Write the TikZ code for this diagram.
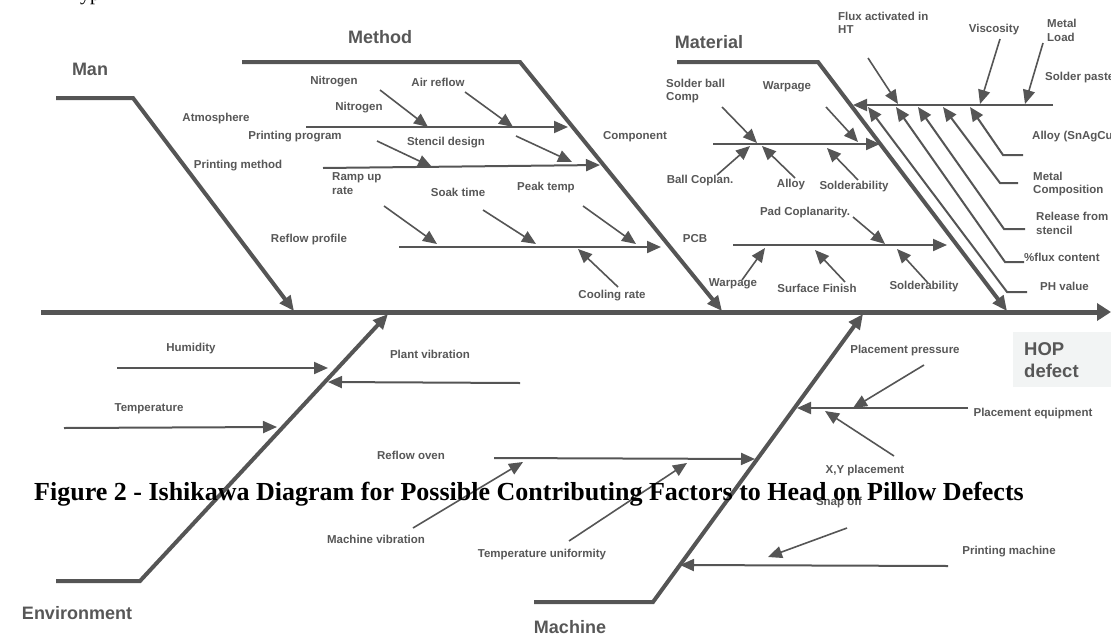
\documentclass[tikz,border=0pt]{standalone}
\usepackage{fontspec}
\setmainfont{Liberation Serif}
\setsansfont{Liberation Sans}
\usetikzlibrary{arrows.meta}
\definecolor{lc}{HTML}{555555}
\definecolor{tc}{HTML}{575757}
\definecolor{hopbg}{HTML}{F2F4F4}
\begin{document}
\begin{tikzpicture}[x=1pt,y=-1pt,
  spine/.style={draw=lc, line width=5pt, -{Triangle[length=14pt,width=17pt]}},
  bone/.style={draw=lc, line width=4pt, line join=miter, -{Triangle[length=15pt,width=13pt]}},
  sub/.style={draw=lc, line width=2pt, -{Triangle[length=14pt,width=12pt]}},
  twig/.style={draw=lc, line width=1.6pt, -{Triangle[length=14pt,width=12pt]}},
  lbl/.style={font=\sffamily\bfseries\fontsize{11.5}{13.5}\selectfont, text=tc, inner sep=0pt, align=center},
  lbll/.style={lbl, align=left, anchor=west},
  head/.style={font=\sffamily\bfseries\fontsize{18}{21}\selectfont, text=tc, inner sep=0pt}]
\useasboundingbox (0,0) rectangle (1111,635);
\node[font=\fontsize{20}{24}\selectfont, anchor=base west, inner sep=0pt] (frag) at (80,0) {yp};
% spine
\coordinate (s0) at (41,312); \coordinate (s1) at (1111,312);
\draw[spine] (s0) -- (s1);
% main bones
\coordinate (man0) at (56,98); \coordinate (man1) at (133,98); \coordinate (man2) at (294,311);
\coordinate (met0) at (242,62); \coordinate (met1) at (520,62); \coordinate (met2) at (722,311);
\coordinate (mat0) at (677,62); \coordinate (mat1) at (818,62); \coordinate (mat2) at (1007,311);
\coordinate (env0) at (56,581); \coordinate (env1) at (140,581); \coordinate (env2) at (388,314);
\coordinate (mac0) at (534,602); \coordinate (mac1) at (653,602); \coordinate (mac2) at (863,314);
\draw[bone] (man0) -- (man1) -- (man2);
\draw[bone] (met0) -- (met1) -- (met2);
\draw[bone] (mat0) -- (mat1) -- (mat2);
\draw[bone] (env0) -- (env1) -- (env2);
\draw[bone] (mac0) -- (mac1) -- (mac2);
\node[head] (lman) at (90,69) {Man};
\node[head] (lmet) at (380,37) {Method};
\node[head] (lmat) at (709,42) {Material};
\node[head] (lenv) at (77,613) {Environment};
\node[head] (lmac) at (570,627) {Machine};
% HOP box
\fill[hopbg] (1013,332) rectangle (1111,387);
\node[head, font=\sffamily\bfseries\fontsize{18.5}{22}\selectfont, align=left, anchor=west] (hop) at (1024,360) {HOP\\defect};
% Man labels
\node[lbl] (atm) at (216,119) {Atmosphere};
\node[lbl] (pmeth) at (238,166) {Printing method};
% Method
\node[lbl] (nit1) at (334,82) {Nitrogen};
\node[lbl] (nit2) at (359,108) {Nitrogen};
\node[lbl] (pprog) at (295,137) {Printing program};
\node[lbl] (air) at (438,82) {Air reflow};
\node[lbl] (sten) at (446,143) {Stencil design};
\node[lbl] (comp) at (635,137) {Component};
\node[lbll] (ramp) at (332,183.5) {Ramp up\\rate};
\node[lbl] (soak) at (458,192) {Soak time};
\node[lbl] (peak) at (546,188) {Peak temp};
\node[lbl] (rprof) at (309,240) {Reflow profile};
\node[lbl] (cool) at (612,296) {Cooling rate};
\node[lbl] (pcb) at (695,239) {PCB};
\coordinate (l1a) at (306,127); \coordinate (l1b) at (568,127);
\coordinate (l2a) at (323,168); \coordinate (l2b) at (600,165);
\coordinate (l3a) at (399,247); \coordinate (l3b) at (661,247);
\draw[sub] (l1a) -- (l1b);
\draw[sub] (l2a) -- (l2b);
\draw[sub] (l3a) -- (l3b);
\coordinate (a0) at (380,90); \coordinate (a1) at (428,127);
\coordinate (b0) at (465,92); \coordinate (b1) at (513,127);
\coordinate (c0) at (377,141); \coordinate (c1) at (432,167);
\coordinate (d0) at (516,136); \coordinate (d1) at (572,162);
\coordinate (e0) at (384,206); \coordinate (e1) at (437,244);
\coordinate (f0) at (483,210); \coordinate (f1) at (536,244);
\coordinate (g0) at (583,206); \coordinate (g1) at (636,244);
\coordinate (h0) at (618,287); \coordinate (h1) at (578,249);
\foreach \p in {a,b,c,d,e,f,g,h} \draw[twig] (\p0) -- (\p1);
% Material
\node[lbll] (sbc) at (666,91) {Solder ball\\Comp};
\node[lbl] (warp1) at (787,87) {Warpage};
\node[lbl] (bcop) at (700,181) {Ball Coplan.};
\node[lbl] (alloy) at (791,185) {Alloy};
\node[lbl] (sold1) at (854,187) {Solderability};
\node[lbl] (padc) at (805,213) {Pad Coplanarity.};
\node[lbl] (warp2) at (733,284) {Warpage};
\node[lbl] (surf) at (817,288) {Surface Finish};
\node[lbl] (sold2) at (924,287) {Solderability};
\coordinate (m1a) at (713,144); \coordinate (m1b) at (880,144);
\coordinate (m2a) at (733,245); \coordinate (m2b) at (947,245);
\draw[sub] (m1a) -- (m1b);
\draw[sub] (m2a) -- (m2b);
\coordinate (i0) at (722,107); \coordinate (i1) at (757,143);
\coordinate (j0) at (717,175); \coordinate (j1) at (750,146);
\coordinate (k0) at (795,178); \coordinate (k1) at (762,146);
\coordinate (l0) at (826,107); \coordinate (l1) at (858,142);
\coordinate (m0) at (858,180); \coordinate (m1) at (827,148);
\coordinate (n0) at (853,217); \coordinate (n1) at (885,244);
\coordinate (o0) at (742,280); \coordinate (o1) at (765,248);
\coordinate (p0) at (845,282); \coordinate (p1) at (815,250);
\coordinate (q0) at (928,283); \coordinate (q1) at (897,249);
\foreach \p in {i,j,k,l,m,n,o,p,q} \draw[twig] (\p0) -- (\p1);
% Solder paste
\node[lbll] (flux) at (838,23) {Flux activated in\\HT};
\node[lbl] (visc) at (994,30) {Viscosity};
\node[lbll] (mload) at (1047,30.5) {Metal\\Load};
\node[lbll] (spaste) at (1045,78) {Solder paste};
\node[lbll] (snag) at (1032,137) {Alloy (SnAgCu)};
\node[lbll] (mcomp) at (1033,184) {Metal\\Composition};
\node[lbll] (rel) at (1036,223.5) {Release from\\stencil};
\node[lbll] (pflux) at (1024,257) {\%flux content};
\node[lbll] (ph) at (1040,286) {PH value};
\coordinate (sp0) at (1053,105); \coordinate (sp1) at (853,105);
\draw[sub] (sp0) -- (sp1);
\coordinate (r0) at (868,58); \coordinate (r1) at (898,104);
\coordinate (t0) at (1000,39); \coordinate (t1) at (980,104);
\coordinate (u0) at (1043,43); \coordinate (u1) at (1025,104);
\foreach \p in {r,t,u} \draw[twig] (\p0) -- (\p1);
\coordinate (v1a) at (1023,155); \coordinate (v1b) at (1003,155); \coordinate (v1c) at (970,107);
\coordinate (v2a) at (1018,183); \coordinate (v2b) at (1000,183); \coordinate (v2c) at (943,107);
\coordinate (v3a) at (1025,229); \coordinate (v3b) at (1004,229); \coordinate (v3c) at (918,107);
\coordinate (v4a) at (1024,262); \coordinate (v4b) at (1005,262); \coordinate (v4c) at (896,107);
\coordinate (v5a) at (1027,292); \coordinate (v5b) at (1007,292); \coordinate (v5c) at (868,107);
\foreach \p in {v1,v2,v3,v4,v5} \draw[sub, line join=miter] (\p a) -- (\p b) -- (\p c);
% Environment
\node[lbl] (hum) at (191,349) {Humidity};
\node[lbl] (plant) at (430,354) {Plant vibration};
\node[lbl] (temp) at (149,409) {Temperature};
\coordinate (hu0) at (117,368); \coordinate (hu1) at (328,368);
\coordinate (pl0) at (520,383); \coordinate (pl1) at (328,382);
\coordinate (te0) at (64,428); \coordinate (te1) at (277,427);
\draw[sub] (hu0) -- (hu1);
\draw[sub] (pl0) -- (pl1);
\draw[sub] (te0) -- (te1);
% Machine
\node[lbl] (roven) at (411,455) {Reflow oven};
\node[lbl] (mvib) at (376,539) {Machine vibration};
\node[lbl] (tuni) at (542,555) {Temperature uniformity};
\node[lbl] (pmach) at (1009,552) {Printing machine};
\node[lbl] (snap) at (839,503) {Snap off};
\node[lbl] (pequip) at (1033,414) {Placement equipment};
\node[lbl] (ppres) at (905,351) {Placement pressure};
\node[lbl] (xy) at (865,471) {X,Y placement};
\coordinate (ro0) at (494,458); \coordinate (ro1) at (755,459);
\coordinate (pm0) at (948,566); \coordinate (pm1) at (680,565);
\coordinate (pe0) at (968,408); \coordinate (pe1) at (797,408);
\draw[sub] (ro0) -- (ro1);
\draw[sub] (pm0) -- (pm1);
\draw[sub] (pe0) -- (pe1);
\coordinate (mv0) at (413,528); \coordinate (mv1) at (523,462);
\coordinate (tu0) at (569,541); \coordinate (tu1) at (687,463);
\coordinate (sn0) at (847,528); \coordinate (sn1) at (768,557);
\coordinate (pp0) at (924,365); \coordinate (pp1) at (853,408);
\coordinate (xy0) at (894,456); \coordinate (xy1) at (825,411);
\foreach \p in {mv,tu,sn,pp,xy} \draw[twig] (\p0) -- (\p1);
% caption
\node[font=\bfseries\fontsize{26}{30}\selectfont, anchor=base west, inner sep=0pt] (cap) at (34,500) {Figure 2 - Ishikawa Diagram for Possible Contributing Factors to Head on Pillow Defects};
\end{tikzpicture}
\end{document}
